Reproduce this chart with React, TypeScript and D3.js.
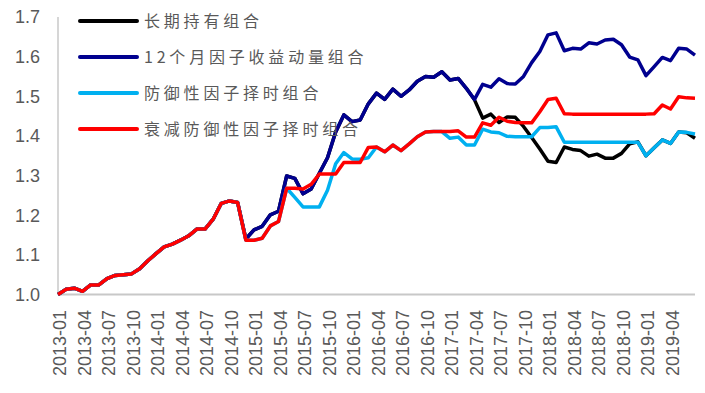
import * as d3 from 'd3';

// monthly net value, 2013-01 .. 2019-07
const months = d3.timeMonth
  .range(new Date(2013, 0, 1), new Date(2019, 7, 1))
  .map(d3.timeFormat('%Y-%m'));

const common = [
  1.0, 1.013, 1.016, 1.008, 1.024, 1.024, 1.04, 1.048, 1.05, 1.052, 1.065, 1.085,
  1.103, 1.12, 1.127, 1.137, 1.148, 1.165, 1.165, 1.19, 1.23, 1.236, 1.232,
];

const momentumTail = [
  1.14, 1.163, 1.172, 1.201, 1.21, 1.299, 1.293, 1.254, 1.266, 1.306, 1.345, 1.41,
  1.453, 1.436, 1.44, 1.481, 1.508, 1.492, 1.518, 1.5, 1.516, 1.538, 1.55, 1.548,
  1.562, 1.541, 1.545, 1.52, 1.492, 1.53, 1.523, 1.544, 1.532, 1.531, 1.55, 1.585,
  1.613, 1.655, 1.66, 1.615, 1.621, 1.619, 1.635, 1.632, 1.642, 1.644, 1.63, 1.599,
  1.592, 1.552, 1.575, 1.598, 1.59, 1.621, 1.619, 1.604,
];

const holdTail = [
  1.14, 1.163, 1.172, 1.201, 1.21, 1.299, 1.293, 1.254, 1.266, 1.306, 1.345, 1.41,
  1.453, 1.436, 1.44, 1.481, 1.508, 1.492, 1.518, 1.5, 1.516, 1.538, 1.55, 1.548,
  1.562, 1.541, 1.545, 1.52, 1.491, 1.445, 1.455, 1.434, 1.448, 1.447, 1.424, 1.396,
  1.367, 1.336, 1.333, 1.372, 1.366, 1.363, 1.349, 1.354, 1.344, 1.344, 1.356, 1.38,
  1.385, 1.35, 1.37, 1.39, 1.381, 1.41, 1.408, 1.394,
];

const defensiveTail = [
  1.137, 1.137, 1.142, 1.173, 1.184, 1.268, 1.245, 1.221, 1.221, 1.221, 1.263, 1.33,
  1.358, 1.342, 1.341, 1.345, 1.372, 1.36, 1.377, 1.363, 1.38, 1.398, 1.41, 1.411,
  1.411, 1.394, 1.397, 1.377, 1.377, 1.417, 1.41, 1.408, 1.399, 1.398, 1.398, 1.398,
  1.421, 1.421, 1.423, 1.384, 1.384, 1.384, 1.384, 1.384, 1.384, 1.384, 1.384, 1.384,
  1.384, 1.35, 1.37, 1.39, 1.381, 1.41, 1.409, 1.405,
];

const decayTail = [
  1.137, 1.137, 1.142, 1.173, 1.184, 1.268, 1.268, 1.266, 1.278, 1.304, 1.304, 1.304,
  1.333, 1.333, 1.333, 1.371, 1.372, 1.36, 1.377, 1.363, 1.38, 1.398, 1.41, 1.411,
  1.411, 1.411, 1.413, 1.397, 1.397, 1.433, 1.427, 1.447, 1.437, 1.434, 1.433, 1.433,
  1.461, 1.492, 1.495, 1.456, 1.455, 1.455, 1.455, 1.455, 1.455, 1.455, 1.455, 1.455,
  1.455, 1.455, 1.456, 1.478, 1.468, 1.499, 1.496, 1.495,
];

const seriesNames = ['长期持有组合', '12个月因子收益动量组合', '防御性因子择时组合', '衰减防御性因子择时组合'];
const seriesColors = ['#000000', '#00008f', '#00b0f0', '#ff0000'];
const seriesValues = [
  common.concat(holdTail),
  common.concat(momentumTail),
  common.concat(defensiveTail),
  common.concat(decayTail),
];

const yTicks = [1.0, 1.1, 1.2, 1.3, 1.4, 1.5, 1.6, 1.7];

const width = 705;
const height = 393;
const plot = { left: 58, right: 695, top: 17, bottom: 294.5 };

export default function App() {
  const x = d3.scalePoint<string>().domain(months).range([plot.left, plot.right]);
  const y = d3.scaleLinear().domain([1.0, 1.7]).range([plot.bottom, plot.top]);

  const line = d3
    .line<number>()
    .x((_d, i) => x(months[i]) as number)
    .y((d) => y(d));

  // quarterly labels; the last one shown is 2019-04
  const xLabels = months.filter((_m, i) => i % 3 === 0 && i <= 75);

  return (
    <>
      <style>{'body{margin:0;background:#fff}'}</style>
      <svg width={width} height={height} style={{ display: 'block', fontFamily: '"Liberation Sans", Arial, sans-serif' }}>
        <rect width={width} height={height} fill="#ffffff" />

        {/* axes */}
        <line x1={plot.left} x2={plot.left} y1={plot.top} y2={plot.bottom} stroke="#c8c8c8" strokeWidth={1.5} />
        <line x1={plot.left} x2={plot.right} y1={plot.bottom} y2={plot.bottom} stroke="#c8c8c8" strokeWidth={2} />

        {yTicks.map((t) => (
          <text key={t} x={40} y={y(t)} dy="0.35em" textAnchor="end" fontSize={18} fill="#595959">
            {t.toFixed(1)}
          </text>
        ))}

        {xLabels.map((m) => (
          <text
            key={m}
            transform={`translate(${(x(m) as number) + 2},${310}) rotate(-90)`}
            dy="0.35em"
            textAnchor="end"
            fontSize={18}
            fill="#595959"
          >
            {m}
          </text>
        ))}

        {/* series */}
        {seriesValues.map((vals, k) => (
          <path
            key={seriesNames[k]}
            d={line(vals) ?? ''}
            fill="none"
            stroke={seriesColors[k]}
            strokeWidth={3.5}
            strokeLinejoin="round"
          />
        ))}

        {/* legend */}
        {seriesNames.map((name, k) => {
          const ly = 21 + k * 36;
          return (
            <g key={name}>
              <line x1={80} x2={137} y1={ly} y2={ly} stroke={seriesColors[k]} strokeWidth={4} strokeLinecap="round" />
              <text
                x={144}
                y={ly}
                dy="0.35em"
                fontSize={16}
                letterSpacing={3.8}
                fill="#595959"
                fontFamily='"Noto Sans CJK SC", "Liberation Sans", sans-serif'
              >
                {name}
              </text>
            </g>
          );
        })}
      </svg>
    </>
  );
}
